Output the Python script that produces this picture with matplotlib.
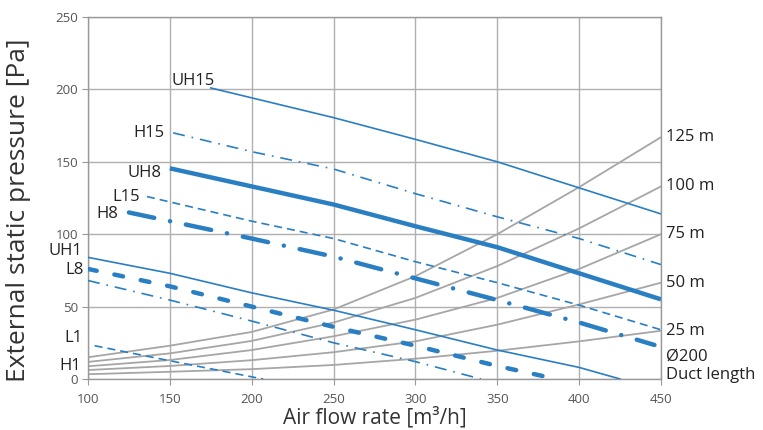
import matplotlib
matplotlib.use("Agg")
import matplotlib.pyplot as plt

plt.rcParams['font.family'] = ['Open Sans', 'DejaVu Sans']
plt.rcParams['lines.scale_dashes'] = False

# fan curves (air flow m3/h, pressure Pa)
uh15_q = [175, 250, 300, 350, 400, 450]
uh15_p = [201, 180.5, 165.5, 150, 132, 114]
h15_q = [152, 200, 250, 300, 350, 400, 450]
h15_p = [170, 157, 145, 128, 112, 97, 79]
uh8_q = [150, 200, 250, 300, 350, 400, 450]
uh8_p = [145.5, 133, 120.5, 105.5, 91, 73, 55]
l15_q = [136, 200, 250, 300, 350, 400, 450]
l15_p = [126, 109, 97, 81, 66.5, 51, 34]
h8_q = [125, 150, 200, 250, 300, 350, 400, 446]
h8_p = [115, 109, 97, 84.5, 69.5, 54.5, 39, 23.5]
uh1_q = [100, 150, 200, 250, 300, 350, 400, 425]
uh1_p = [84, 73, 59.5, 47.5, 34, 20, 8, 0]
l8_q = [100, 150, 200, 250, 300, 350, 386]
l8_p = [76, 64, 50, 36, 23, 9, 0]
h1_q = [100, 150, 200, 250, 300, 340]
h1_p = [68, 54.5, 40, 25, 12, 0]
l1_q = [104, 150, 200, 207]
l1_p = [23, 12.6, 1.5, 0]

# duct system curves, diameter 200
duct_q = [100, 150, 200, 250, 300, 350, 400, 450]
duct_p = {
    '125 m': [15, 23, 32.5, 48, 71, 100, 132.5, 167],
    '100 m': [11.8, 17.7, 26.3, 39, 56, 78, 104, 133],
    '75 m': [8.8, 13.1, 20, 29.5, 41, 56, 76, 100],
    '50 m': [6.2, 9, 13, 18.5, 26, 37.5, 51.5, 66.5],
    '25 m': [3.3, 5, 6.8, 9.7, 14, 19.5, 26, 33.3],
}

blue = '#2a7fc3'
grey = '#a6a6a6'

fig = plt.figure(figsize=(7.63, 4.30), dpi=100)
ax = fig.add_axes([88 / 763, 51 / 430, 573 / 763, 362 / 430])

for name, p in duct_p.items():
    ax.plot(duct_q, p, color=grey, lw=1.3, zorder=2)
    ax.text(453, p[-1], name, ha='left', va='center', fontsize=12,
            color='#222222', clip_on=False)
ax.text(453, 15.4, 'Ø200', ha='left', va='center', fontsize=12, color='#222222', clip_on=False)
ax.text(453, 2.8, 'Duct length', ha='left', va='center', fontsize=12, color='#222222', clip_on=False)

thin = 1.2
thick = 3.2
ax.plot(uh15_q, uh15_p, color=blue, lw=thin, zorder=3)
ax.plot(uh1_q, uh1_p, color=blue, lw=thin, zorder=3)
ax.plot(h15_q, h15_p, color=blue, lw=thin, dashes=(8.6, 5, 1.2, 5), zorder=3)
ax.plot(h1_q, h1_p, color=blue, lw=thin, dashes=(8.6, 5, 1.2, 5), zorder=3)
ax.plot(l15_q, l15_p, color=blue, lw=thin, dashes=(5.8, 3.6), zorder=3)
ax.plot(l1_q, l1_p, color=blue, lw=thin, dashes=(5.8, 3.6), zorder=3)
ax.plot(uh8_q, uh8_p, color=blue, lw=thick, solid_capstyle='butt', zorder=3)
ax.plot(h8_q, h8_p, color=blue, lw=thick, dashes=(18.6, 11.6, 0.1, 11.6),
        dash_capstyle='round', zorder=3)
ax.plot(l8_q, l8_p, color=blue, lw=thick, dashes=(6.4, 13), dash_capstyle='round', zorder=3)

# curve names
lab = dict(fontsize=12, color='#222222', clip_on=False)
ax.text(164, 206, 'UH15', ha='center', va='center', **lab)
ax.text(146.5, 170, 'H15', ha='right', va='center', **lab)
ax.text(145, 142, 'UH8', ha='right', va='center', **lab)
ax.text(132, 126, 'L15', ha='right', va='center', **lab)
ax.text(118.5, 114, 'H8', ha='right', va='center', **lab)
ax.text(96.5, 88.5, 'UH1', ha='right', va='center', **lab)
ax.text(97.5, 75.5, 'L8', ha='right', va='center', **lab)
ax.text(96.5, 28, 'L1', ha='right', va='center', **lab)
ax.text(95.5, 9, 'H1', ha='right', va='center', **lab)

ax.set_xlim(100, 450)
ax.set_ylim(0, 250)
ax.set_xticks(range(100, 451, 50))
ax.set_yticks(range(0, 251, 50))
ax.grid(True, color='#b0b0b0', lw=1)
ax.set_axisbelow(True)
for s in ax.spines.values():
    s.set_color('#999999')
    s.set_linewidth(1)
ax.tick_params(direction='out', length=4, color='#999999', labelsize=9.5,
               labelcolor='#555555')
ax.tick_params(axis='x', pad=6)
ax.tick_params(axis='y', pad=3)
ax.set_xlabel('Air flow rate [m³/h]', fontsize=15, color='#333333', labelpad=1)
ax.set_ylabel('External static pressure [Pa]', fontsize=19, color='#333333')
ax.yaxis.set_label_coords(-0.1, 0.465)

fig.savefig('out.png', dpi=100)
